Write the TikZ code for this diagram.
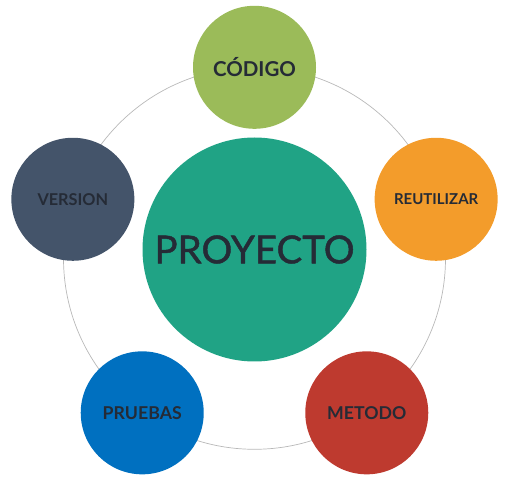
\documentclass[tikz,border=0pt]{standalone}
\usepackage{fontspec}
\setmainfont{Lato}
\newfontfamily\latogrueso[FakeBold=1.2]{Lato}
\usetikzlibrary{calc}
\definecolor{verde}{HTML}{9BBB59}
\definecolor{naranja}{HTML}{F39C2B}
\definecolor{rojo}{HTML}{BE3A2F}
\definecolor{azul}{HTML}{0070C0}
\definecolor{pizarra}{HTML}{44546A}
\definecolor{turquesa}{HTML}{20A385}
\definecolor{texto}{HTML}{252B36}
\definecolor{anillo}{HTML}{B8B8B8}
\begin{document}
\begin{tikzpicture}[x=1pt, y=1pt, line join=round, line cap=round,
	bola/.style={circle, minimum size=123pt, inner sep=0pt, text=texto},
	etiqueta/.style={font=\fontsize{#1}{#1}\selectfont\bfseries}]
	\useasboundingbox (0,0) rectangle (511,487);
	\def\R{191}
	\coordinate (O) at (254.5,228.7);
	\draw[anillo, line width=0.7pt] (O) circle (\R);
	\node[bola, fill=turquesa, minimum size=224pt, font=\latogrueso\fontsize{38.5}{38.5}\selectfont] (proyecto) at (254.5,237.5) {PROYECTO};
	\node[bola, fill=verde, etiqueta=20.5] (codigo) at ($(O)+(90:\R)$) {CÓDIGO};
	\node[bola, fill=naranja, etiqueta=15] (reutilizar) at ($(O)+(18:\R)$) {REUTILIZAR};
	\node[bola, fill=rojo, etiqueta=17.7] (metodo) at ($(O)+(-54:\R)$) {METODO};
	\node[bola, fill=azul, etiqueta=17.7] (pruebas) at ($(O)+(234:\R)$) {PRUEBAS};
	\node[bola, fill=pizarra, etiqueta=16.3] (version) at ($(O)+(162:\R)$) {VERSION};
\end{tikzpicture}
\end{document}
